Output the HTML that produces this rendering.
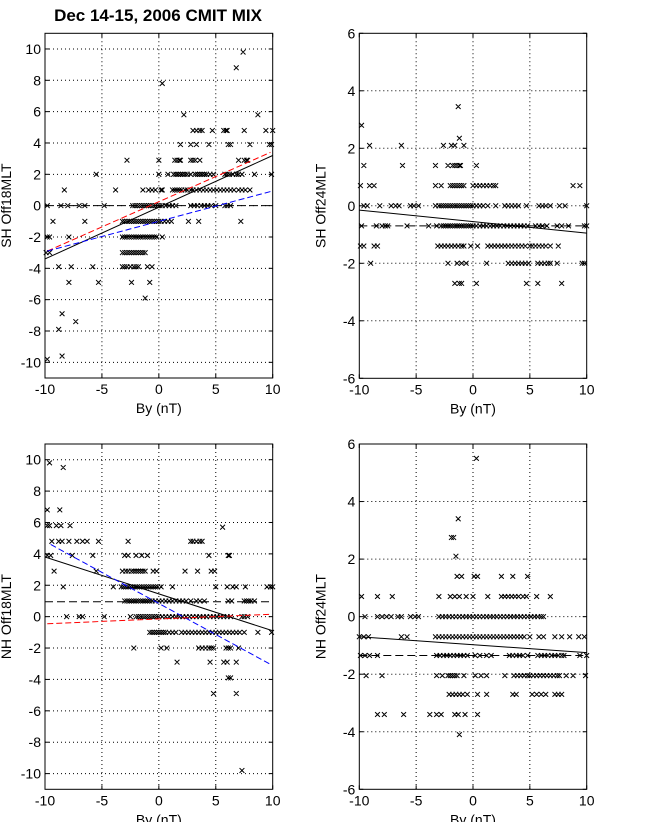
<!DOCTYPE html>
<html><head><meta charset="utf-8"><style>
html,body{margin:0;padding:0;background:#fff;}
svg text{font-family:"Liberation Sans",sans-serif;}
</style></head><body>
<svg id="fig" width="647" height="822" viewBox="0 0 647 822" xmlns="http://www.w3.org/2000/svg">
<rect width="647" height="822" fill="#fff"/>
<text x="158" y="21" font-size="17" font-weight="bold" text-anchor="middle">Dec 14-15, 2006 CMIT MIX</text>
</svg>
<script>
const tlRows = [
 [9.8,[7.4]],[8.8,[6.8]],[7.8,[0.3]],[5.8,[2.2,8.7]],
 [4.8,[3.0,3.3,3.6,3.8,4.7,5.7,5.9,6.0,7.5,9.4,10]],
 [3.9,[1.9,2.8,3.3,4.4,6.1,6.3,8.0,9.7,9.9]],
 [2.9,[-2.8,0,1.4,1.6,1.8,1.9,2.8,3.0,3.2,3.6,7.0,7.5,7.7,7.8]],
 [2.0,[-5.5,0,0.8,1.3,1.5,1.7,1.9,2.1,2.3,2.5,2.8,3.2,3.4,3.6,3.8,4.0,4.2,4.5,4.8,5.8,6.0,6.2,6.5,6.8,7.0,7.3,8.4,9.9]],
 [1.0,[-8.3,-3.8,-1.4,-0.9,-0.6,-0.3,0.2,0.3,1.2,1.4,1.6,1.8,2.0,2.3,2.5,2.8,3.0,3.3,3.6,3.9,4.2,4.5,4.8,5.1,5.4,5.7,6.0,6.3,6.6,7.0,7.3,7.6,8.0]],
 [0,[-9.8,-8.6,-8.0,-7.0,-6.5,-4.8,-2.3,-2.1,-1.9,-1.7,-1.5,-1.3,-1.1,-0.9,-0.7,-0.5,-0.3,-0.1,0.1,0.3,0.6,0.9,1.2,1.5,2.8,3.1,3.4,3.7,4.0,4.3,4.6,5.0,5.8,6.0,6.3]],
 [-1.0,[-9.3,-6.5,-3.2,-3.0,-2.8,-2.6,-2.4,-2.2,-2.0,-1.8,-1.6,-1.4,-1.2,-1.0,-0.8,-0.6,-0.4,-0.2,0,0.2,0.5,0.8,1.1,2.6,3.5,7.2]],
 [-2.0,[-9.8,-9.6,-7.9,-3.2,-3.0,-2.8,-2.6,-2.4,-2.2,-2.0,-1.8,-1.6,-1.4,-1.2,-1.0,-0.8,-0.6,-0.4,-0.2,0.3]],
 [-3.0,[-9.9,-9.6,-3.2,-3.0,-2.8,-2.6,-2.4,-2.2,-2.0,-1.8,-1.6,-1.4,-1.2]],
 [-3.9,[-8.8,-7.7,-5.8,-3.2,-3.0,-2.8,-2.5,-2.2,-2.0,-1.8,-1.0,-0.6]],
 [-4.9,[-7.9,-5.3,-2.4,-0.8]],[-5.9,[-1.2]],[-6.9,[-8.5]],[-7.4,[-7.3]],
 [-7.9,[-8.8]],[-9.6,[-8.5]],[-9.8,[-9.8]]
];
const blRows = [
 [9.8,[-9.6]],[9.5,[-8.4]],[6.8,[-9.8,-8.7]],[5.8,[-9.8,-9.6,-9.0,-8.6,-7.8]],[5.7,[5.6]],
 [4.8,[-9.4,-8.8,-8.5,-7.9,-7.2,-6.7,-6.3,-5.3,-2.7,2.8,3.0,3.3,3.6,3.8]],
 [3.9,[-9.8,-9.5,-7.6,-5.8,-3.0,-2.7,-2.0,-1.5,-1.0,4.4,6.1,6.2]],
 [2.9,[-9.2,-5.5,-3.2,-2.9,-2.7,-2.4,-2.2,-2.0,-1.8,-1.6,-1.4,-1.2,-0.5,-0.2,2.3,3.4,4.6,4.9]],
 [1.9,[-8.4,-4.0,-3.3,-3.1,-2.9,-2.7,-2.5,-2.3,-2.1,-1.9,-1.7,-1.5,-1.3,-1.1,-0.9,-0.7,-0.5,-0.3,-0.1,0.2,1.2,5.0,6.0,6.5,6.8,7.6,9.5,9.8,10]],
 [1.0,[-3.0,-2.8,-2.6,-2.4,-2.2,-2.0,-1.8,-1.6,-1.4,-1.2,-1.0,-0.8,-0.6,-0.3,0,0.3,0.6,0.9,1.2,1.5,1.8,2.1,2.4,2.8,3.3,3.6,4.0,6.1,6.4,7.5,7.7,7.9,8.1,8.4]],
 [0,[-8.1,-7.0,-6.7,-4.8,-2.5,-2.0,-1.8,-1.6,-1.4,-1.2,-1.0,-0.8,-0.6,-0.4,-0.2,0,0.3,0.6,0.9,1.2,1.5,1.8,2.1,2.4,2.7,3.0,3.3,3.6,3.9,4.2,4.5,4.8,5.1,5.4,5.7,6.0,6.3,7.3,7.5,7.8]],
 [-1.0,[-0.8,-0.6,-0.4,-0.2,0,0.2,0.4,0.6,0.9,1.2,1.5,2.0,2.3,2.6,2.9,3.2,3.5,3.8,4.1,4.4,4.7,5.0,5.3,5.6,5.9,6.2,6.5,6.8,7.1,7.5,8.7,9.9]],
 [-2.0,[-2.2,0.2,0.7,3.5,3.8,4.1,4.4,4.6,4.8,5.9,6.1,6.3,7.0]],
 [-2.9,[1.6,4.5,5.7,6.0,6.8]],[-3.9,[6.1,6.3]],[-4.9,[4.8,6.8]],[-9.8,[7.3]]
];
const trRows = [
 [3.45,[-1.3]],[2.8,[-9.8]],[2.35,[-1.2]],[2.1,[-9.1,-6.3,-2.6,-1.9,-1.6,-0.8]],
 [1.4,[-9.6,-6.2,-3.3,-2.2,-1.8,-1.6,-1.4,-1.2,-1.1,0.3]],
 [0.7,[-9.9,-9.1,-8.7,-3.3,-2.8,-2.0,-1.8,-1.6,-1.4,-1.2,-1.0,-0.8,0,0.3,0.6,0.9,1.2,1.5,1.8,2.0,8.8,9.4]],
 [0,[-9.6,-9.3,-8.2,-7.2,-6.8,-6.5,-5.5,-5.2,-4.8,-3.3,-3.0,-2.8,-2.6,-2.4,-2.2,-2.0,-1.8,-1.6,-1.4,-1.2,-1.0,-0.8,-0.6,-0.4,-0.2,0,0.3,0.6,0.9,1.3,2.0,2.8,3.1,3.4,3.7,4.0,4.7,5.8,6.1,6.4,6.8,7.6,8.1,10]],
 [-0.7,[-9.8,-8.5,-8.0,-7.7,-7.5,-5.8,-3.9,-3.2,-2.8,-2.6,-2.4,-2.2,-2.0,-1.8,-1.6,-1.4,-1.2,-1.0,-0.8,-0.6,-0.4,-0.2,0,0.3,0.6,0.9,1.2,1.5,1.8,2.1,2.4,2.7,3.0,3.3,3.6,3.9,4.2,4.5,4.8,5.5,5.8,6.1,6.5,7.4,7.8,8.4,9.8,10]],
 [-1.4,[-9.9,-9.6,-8.7,-8.4,-3.1,-2.8,-2.5,-2.2,-1.9,-1.6,-1.3,-1.0,-0.8,-0.2,0.4,1.3,1.6,1.9,2.2,2.5,2.8,3.1,3.4,3.7,4.0,4.3,4.6,5.0,5.2,5.5,5.8,6.1,6.4,6.8,7.5]],
 [-2.0,[-9.0,-2.2,-1.4,-1.0,-0.6,1.2,3.1,3.4,3.7,4.0,4.3,4.6,4.9,5.7,6.0,6.3,6.6,6.8,7.4,9.6,9.8]],
 [-2.7,[-1.6,-1.2,-1.0,0.3,4.7,5.7,7.8]]
];
const brRows = [
 [5.5,[0.3]],[3.4,[-1.3]],[2.75,[-1.9,-1.7]],[2.1,[-1.5]],
 [1.4,[-1.4,-1.0,0.1,0.4,2.5,3.5,4.8]],
 [0.7,[-9.8,-8.4,-7.1,-3.0,-2.0,-1.6,-1.2,-0.6,0,1.3,2.5,2.8,3.1,3.4,3.7,4.0,4.4,4.7,5.6,6.8]],
 [0,[-9.5,-8.4,-8.0,-7.6,-7.2,-6.6,-6.3,-5.5,-5.1,-4.8,-3.0,-2.7,-2.4,-2.1,-1.8,-1.5,-1.2,-0.9,-0.6,-0.3,0,0.3,0.6,0.9,1.2,1.5,1.8,2.1,2.4,2.7,3.0,3.3,3.6,3.9,4.2,4.5,4.8,5.1,5.4,5.7,6.0,6.2]],
 [-0.7,[-10,-9.6,-9.2,-6.3,-5.8,-3.3,-3.0,-2.7,-2.4,-2.1,-1.8,-1.5,-1.2,-0.9,-0.6,-0.3,0,0.3,0.6,0.9,1.2,1.5,1.8,2.1,2.4,2.7,3.0,3.3,3.6,3.9,4.2,4.5,5.0,5.8,6.2,7.2,7.8,8.5,9.3,9.8]],
 [-1.35,[-9.9,-9.5,-9.1,-8.4,-3.2,-2.9,-2.6,-2.3,-2.0,-1.7,-1.4,-1.1,-0.8,-0.5,0.2,0.6,1.2,1.6,3.2,3.5,3.8,4.1,4.4,4.8,5.7,6.0,6.3,6.6,6.9,7.2,7.5,7.8,8.0,9.4,10]],
 [-2.05,[-9.4,-8.0,-3.2,-2.7,-2.2,-2.0,-1.8,-1.6,-1.4,-0.8,0.2,0.7,1.2,2.8,3.6,3.9,4.2,4.5,4.8,5.0,5.3,5.6,5.9,6.2,6.5,6.8,7.1,7.4,7.6,8.2,8.8,9.9]],
 [-2.7,[-2.1,-1.8,-1.5,-1.2,-0.9,-0.5,0.4,1.2,3.5,3.8,5.2,5.6,6.0,6.4,7.2,7.5,7.8]],
 [-3.4,[-8.4,-7.8,-6.1,-3.8,-3.2,-2.8,-1.6,-1.3,-0.7,0.4]],[-4.1,[-1.2]]
];
const tlFitBlack=[-10,-3.4,10,3.2], tlFitRed=[-9.8,-2.9,9.8,3.4], tlFitBlue=[-9.8,-2.9,9.8,0.9], tlZero=0;
const blFitBlack=[-10,3.8,10,-0.9], blFitBlue=[-9.5,4.6,9.7,-3.0], blFitRed=[-9.8,-0.45,9.8,0.15], blZero=0.95;
const trFit=[-10,-0.15,10,-0.95], trZero=-0.7;
const brFit=[-10,-0.7,10,-1.25], brZero=-1.35;
const xTicks=[-10,-5,0,5,10];
const yTicksL=[-10,-8,-6,-4,-2,0,2,4,6,8,10];
const yTicksR=[-6,-4,-2,0,2,4,6];

const NS='http://www.w3.org/2000/svg';
const svg=document.getElementById('fig');
function mk(tag,attrs,parent){const e=document.createElementNS(NS,tag);for(const k in attrs)e.setAttribute(k,attrs[k]);(parent||svg).appendChild(e);return e;}

function panel(name,box,ymin,ymax,yTicks,ylabel,rows,lines,zeroY){
  const [L,T,R,B]=box;
  const g=mk('g',{});
  
  
  const sx=v=>L+(v+10)/20*(R-L);
  const sy=v=>B-(v-ymin)/(ymax-ymin)*(B-T);
  xTicks.forEach(t=>{ if(t>-10&&t<10){const l=mk('line',{x1:sx(t),x2:sx(t),y1:T,y2:B,stroke:'#000','stroke-width':1,'stroke-dasharray':'1,3'},g);
    
    }});
  yTicks.forEach(t=>{ if(t>ymin&&t<ymax){const l=mk('line',{x1:L,x2:R,y1:sy(t),y2:sy(t),stroke:'#000','stroke-width':1,'stroke-dasharray':'1,3'},g);
    
    }});
  const pts=mk('path',{fill:'none',stroke:'#000','stroke-width':1},g);
  
  
  let d='';
  rows.forEach(([y,xs])=>xs.forEach(x=>{const px=sx(x),py=sy(y),s=2.4;
    d+=`M${px-s},${py-s}L${px+s},${py+s}M${px-s},${py+s}L${px+s},${py-s}`;}));
  pts.setAttribute('d',d);
  const z=mk('line',{x1:L,x2:R,y1:sy(zeroY),y2:sy(zeroY),stroke:'#000','stroke-width':1,'stroke-dasharray':'8,4'},g);
  
  
  lines.forEach(([c,dash,nm])=>{const l=mk('line',{x1:sx(c[0]),y1:sy(c[1]),x2:sx(c[2]),y2:sy(c[3]),stroke:nm.col,'stroke-width':1},g);
    if(dash)l.setAttribute('stroke-dasharray',dash);
    
    });
  const bx=mk('rect',{x:L,y:T,width:R-L,height:B-T,fill:'none',stroke:'#000','stroke-width':1},g);
  
  
  xTicks.forEach(t=>{mk('line',{x1:sx(t),x2:sx(t),y1:B,y2:B-4,stroke:'#000'},g);mk('line',{x1:sx(t),x2:sx(t),y1:T,y2:T+4,stroke:'#000'},g);
    const tx=mk('text',{x:sx(t),y:B+16,'font-size':14,'text-anchor':'middle'},g);tx.textContent=t;
    
    });
  yTicks.forEach(t=>{mk('line',{x1:L,x2:L+4,y1:sy(t),y2:sy(t),stroke:'#000'},g);mk('line',{x1:R,x2:R-4,y1:sy(t),y2:sy(t),stroke:'#000'},g);
    const tx=mk('text',{x:L-4,y:sy(t)+5,'font-size':14,'text-anchor':'end'},g);tx.textContent=t;
    
    });
  const xl=mk('text',{x:(L+R)/2,y:B+35,'font-size':14,'text-anchor':'middle'},g);xl.textContent='By (nT)';
  
  
  const cy=(T+B)/2, cx=L-34;
  const yl=mk('text',{x:cx,y:cy,'font-size':14,'text-anchor':'middle',transform:`rotate(-90 ${cx} ${cy})`},g);yl.textContent=ylabel;
  
  
}
panel('panel-sh-off18mlt',[45,33.3,272.7,378],-11,11,yTicksL,'SH Off18MLT',tlRows,
  [[tlFitBlack,null,{col:'#000',n:'fit-line-black'}],[tlFitRed,'6,3',{col:'#f00',n:'fit-line-red'}],[tlFitBlue,'6,3',{col:'#00f',n:'fit-line-blue'}]],tlZero);
panel('panel-sh-off24mlt',[359.3,33.3,586.7,378.3],-6,6,yTicksR,'SH Off24MLT',trRows,
  [[trFit,null,{col:'#000',n:'fit-line-black'}]],trZero);
panel('panel-nh-off18mlt',[45,444,272.7,789.3],-11,11,yTicksL,'NH Off18MLT',blRows,
  [[blFitBlack,null,{col:'#000',n:'fit-line-black'}],[blFitBlue,'6,3',{col:'#00f',n:'fit-line-blue'}],[blFitRed,'6,3',{col:'#f00',n:'fit-line-red'}]],blZero);
panel('panel-nh-off24mlt',[359.3,444,586.7,789.3],-6,6,yTicksR,'NH Off24MLT',brRows,
  [[brFit,null,{col:'#000',n:'fit-line-black'}]],brZero);
</script>
</body></html>
